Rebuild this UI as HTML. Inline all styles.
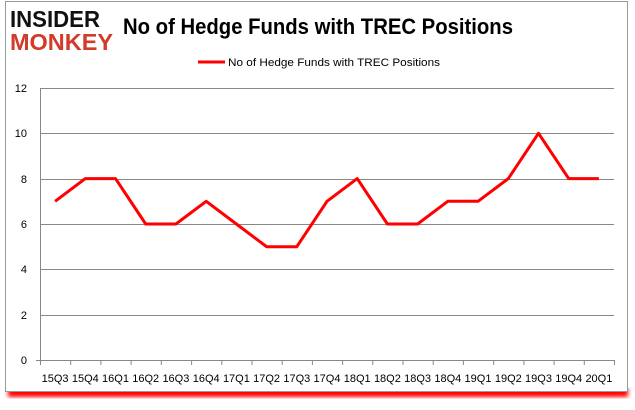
<!DOCTYPE html>
<html><head><style>
body{margin:0;background:#fff;width:635px;height:405px;overflow:hidden;font-family:"Liberation Sans",sans-serif}
</style></head><body>
<svg width="635" height="405" xmlns="http://www.w3.org/2000/svg">
<defs><filter id="b" x="-5%" y="-5%" width="110%" height="120%"><feGaussianBlur stdDeviation="2"/></filter></defs>
<rect x="8" y="388" width="620" height="9" fill="#f00" filter="url(#b)"/>
<rect x="5.5" y="1.5" width="622" height="390" fill="#fff" stroke="#999"/>
<text x="10" y="27" font-size="23" font-weight="bold" fill="#111" textLength="90" lengthAdjust="spacingAndGlyphs">INSIDER</text>
<text x="10" y="50" font-size="23" font-weight="bold" fill="#d23a2a" textLength="103" lengthAdjust="spacingAndGlyphs">MONKEY</text>
<text x="123" y="34" font-size="22" font-weight="bold" fill="#000" textLength="390" lengthAdjust="spacingAndGlyphs">No of Hedge Funds with TREC Positions</text>
<line x1="198" y1="62" x2="225" y2="62" stroke="#f00" stroke-width="3"/>
<text x="228" y="66" font-size="11" fill="#000" textLength="212" lengthAdjust="spacingAndGlyphs">No of Hedge Funds with TREC Positions</text>
<g stroke="#888" stroke-width="1">
<line x1="40" y1="88.5" x2="614" y2="88.5"/>
<line x1="40" y1="133.5" x2="614" y2="133.5"/>
<line x1="40" y1="179.5" x2="614" y2="179.5"/>
<line x1="40" y1="224.5" x2="614" y2="224.5"/>
<line x1="40" y1="269.5" x2="614" y2="269.5"/>
<line x1="40" y1="315.5" x2="614" y2="315.5"/>
<line x1="36" y1="360.5" x2="614" y2="360.5"/>
<line x1="40.5" y1="88" x2="40.5" y2="360"/>
<line x1="40.5" y1="360" x2="40.5" y2="365"/><line x1="70.7" y1="360" x2="70.7" y2="365"/><line x1="100.9" y1="360" x2="100.9" y2="365"/><line x1="131.1" y1="360" x2="131.1" y2="365"/><line x1="161.3" y1="360" x2="161.3" y2="365"/><line x1="191.6" y1="360" x2="191.6" y2="365"/><line x1="221.8" y1="360" x2="221.8" y2="365"/><line x1="252" y1="360" x2="252" y2="365"/><line x1="282.2" y1="360" x2="282.2" y2="365"/><line x1="312.4" y1="360" x2="312.4" y2="365"/><line x1="342.6" y1="360" x2="342.6" y2="365"/><line x1="372.8" y1="360" x2="372.8" y2="365"/><line x1="403" y1="360" x2="403" y2="365"/><line x1="433.2" y1="360" x2="433.2" y2="365"/><line x1="463.4" y1="360" x2="463.4" y2="365"/><line x1="493.7" y1="360" x2="493.7" y2="365"/><line x1="523.9" y1="360" x2="523.9" y2="365"/><line x1="554.1" y1="360" x2="554.1" y2="365"/><line x1="584.3" y1="360" x2="584.3" y2="365"/><line x1="614.5" y1="360" x2="614.5" y2="365"/>
</g>
<g font-size="11" fill="#000" text-anchor="end">
<text x="27" y="92">12</text><text x="27" y="137">10</text><text x="27" y="183">8</text><text x="27" y="228">6</text><text x="27" y="273">4</text><text x="27" y="319">2</text><text x="27" y="364">0</text>
</g>
<g font-size="11" fill="#000" text-anchor="middle">
<text x="55.1" y="382">15Q3</text><text x="85.3" y="382">15Q4</text><text x="115.5" y="382">16Q1</text><text x="145.7" y="382">16Q2</text><text x="175.9" y="382">16Q3</text><text x="206.2" y="382">16Q4</text><text x="236.4" y="382">17Q1</text><text x="266.6" y="382">17Q2</text><text x="296.8" y="382">17Q3</text><text x="327" y="382">17Q4</text><text x="357.2" y="382">18Q1</text><text x="387.4" y="382">18Q2</text><text x="417.6" y="382">18Q3</text><text x="447.8" y="382">18Q4</text><text x="478" y="382">19Q1</text><text x="508.3" y="382">19Q2</text><text x="538.5" y="382">19Q3</text><text x="568.7" y="382">19Q4</text><text x="598.9" y="382">20Q1</text>
</g>
<polyline fill="none" stroke="#f00" stroke-width="3" stroke-linejoin="round" points="55.1,201.3 85.3,178.6 115.5,178.6 145.7,224 175.9,224 206.2,201.3 236.4,224 266.6,246.7 296.8,246.7 327,201.3 357.2,178.6 387.4,224 417.6,224 447.8,201.3 478,201.3 508.3,178.6 538.5,133.3 568.7,178.6 598.9,178.6"/>
</svg>
</body></html>
